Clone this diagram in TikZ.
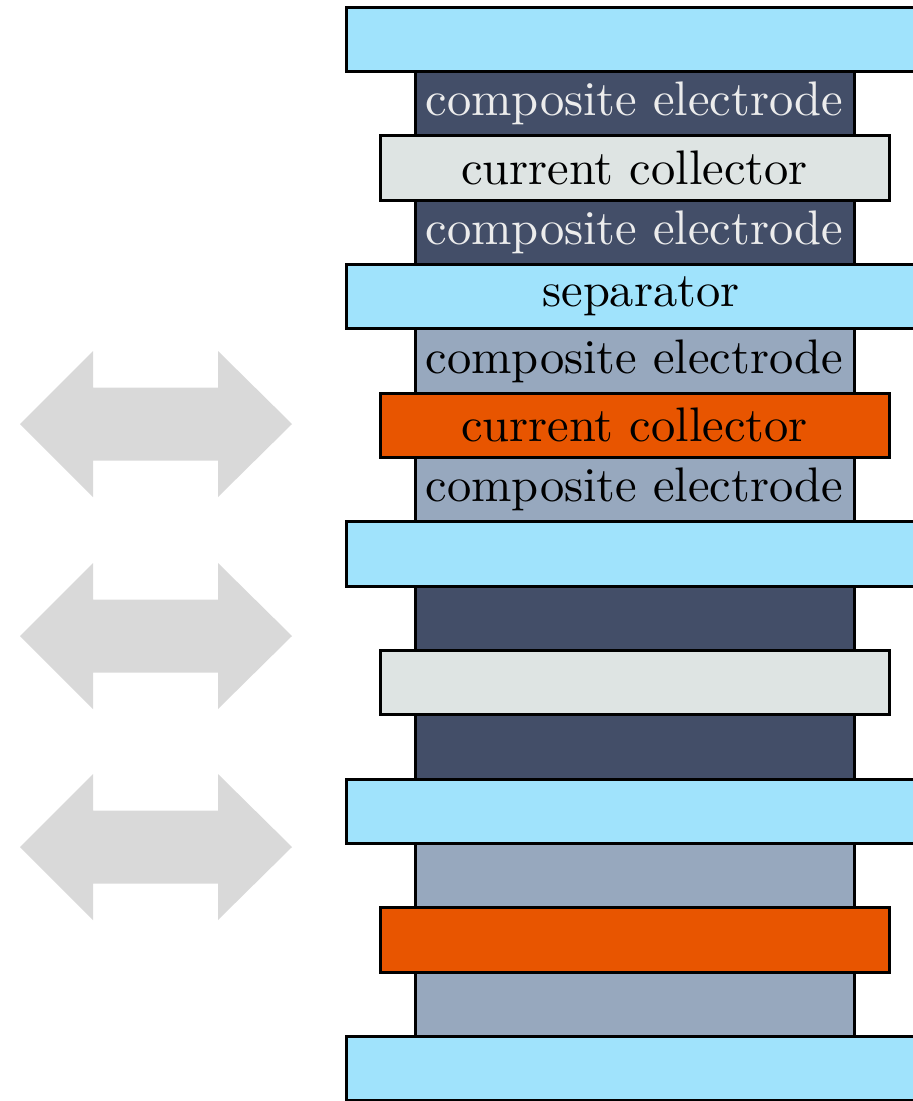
\documentclass[tikz,border=0pt]{standalone}
\definecolor{sepblue}{RGB}{160,227,252}
\definecolor{darkel}{RGB}{67,78,104}
\definecolor{lightel}{RGB}{151,168,190}
\definecolor{graycc}{RGB}{222,228,227}
\definecolor{orangecc}{RGB}{232,85,0}
\definecolor{arrowgray}{RGB}{217,217,217}
\definecolor{paletext}{RGB}{236,236,236}
\newcommand{\layertext}[1]{\scalebox{4.85}{\fontsize{10}{12}\selectfont #1}}
\begin{document}
\begin{tikzpicture}[x=1pt,y=-1pt,
  layer/.style={draw=black, line width=3pt, inner sep=0pt, minimum height=64.35pt},
  seplayer/.style={layer, fill=sepblue, minimum width=590pt},
  darkelec/.style={layer, fill=darkel, text=paletext, minimum width=439pt},
  lightelec/.style={layer, fill=lightel, text=black, minimum width=439pt},
  graycoll/.style={layer, fill=graycc, minimum width=509pt},
  orangecoll/.style={layer, fill=orangecc, minimum width=509pt},
  dblarrow/.style={fill=arrowgray}]
\useasboundingbox (0,0) rectangle (913,1101);
\begin{scope}
\clip (0,0) rectangle (913,1101);
% gray double arrows
\foreach \cy in {424,636,847}
  \fill[dblarrow] (20,\cy) -- (93,\cy-73) -- (93,\cy-36.5) -- (218,\cy-36.5)
    -- (218,\cy-73) -- (292,\cy) -- (218,\cy+73) -- (218,\cy+36.5)
    -- (93,\cy+36.5) -- (93,\cy+73) -- cycle;
% electrodes
\node[darkelec]  (el1)  at (634.5,103.5)  {\layertext{composite electrode}};
\node[darkelec]  (el2)  at (634.5,232.2)  {\layertext{composite electrode}};
\node[lightelec] (el3)  at (634.5,360.9)  {\layertext{composite electrode}};
\node[lightelec] (el4)  at (634.5,489.6)  {\layertext{composite electrode}};
\node[darkelec]  (el5)  at (634.5,618.3)  {};
\node[darkelec]  (el6)  at (634.5,747.0)  {};
\node[lightelec] (el7)  at (634.5,875.7)  {};
\node[lightelec] (el8)  at (634.5,1004.4) {};
% current collectors
\node[graycoll]   (cc1) at (634.5,167.9) {\layertext{current collector}};
\node[orangecoll] (cc2) at (634.5,425.3) {\layertext{current collector}};
\node[graycoll]   (cc3) at (634.5,682.7) {};
\node[orangecoll] (cc4) at (634.5,940.1) {};
% separators
\node[seplayer] (sep1) at (641,39.2)   {};
\node[seplayer] (sep2) at (641,296.6)  {\layertext{separator}};
\node[seplayer] (sep3) at (641,554.0)  {};
\node[seplayer] (sep4) at (641,811.4)  {};
\node[seplayer] (sep5) at (641,1068.8) {};
\end{scope}
\end{tikzpicture}
\end{document}
